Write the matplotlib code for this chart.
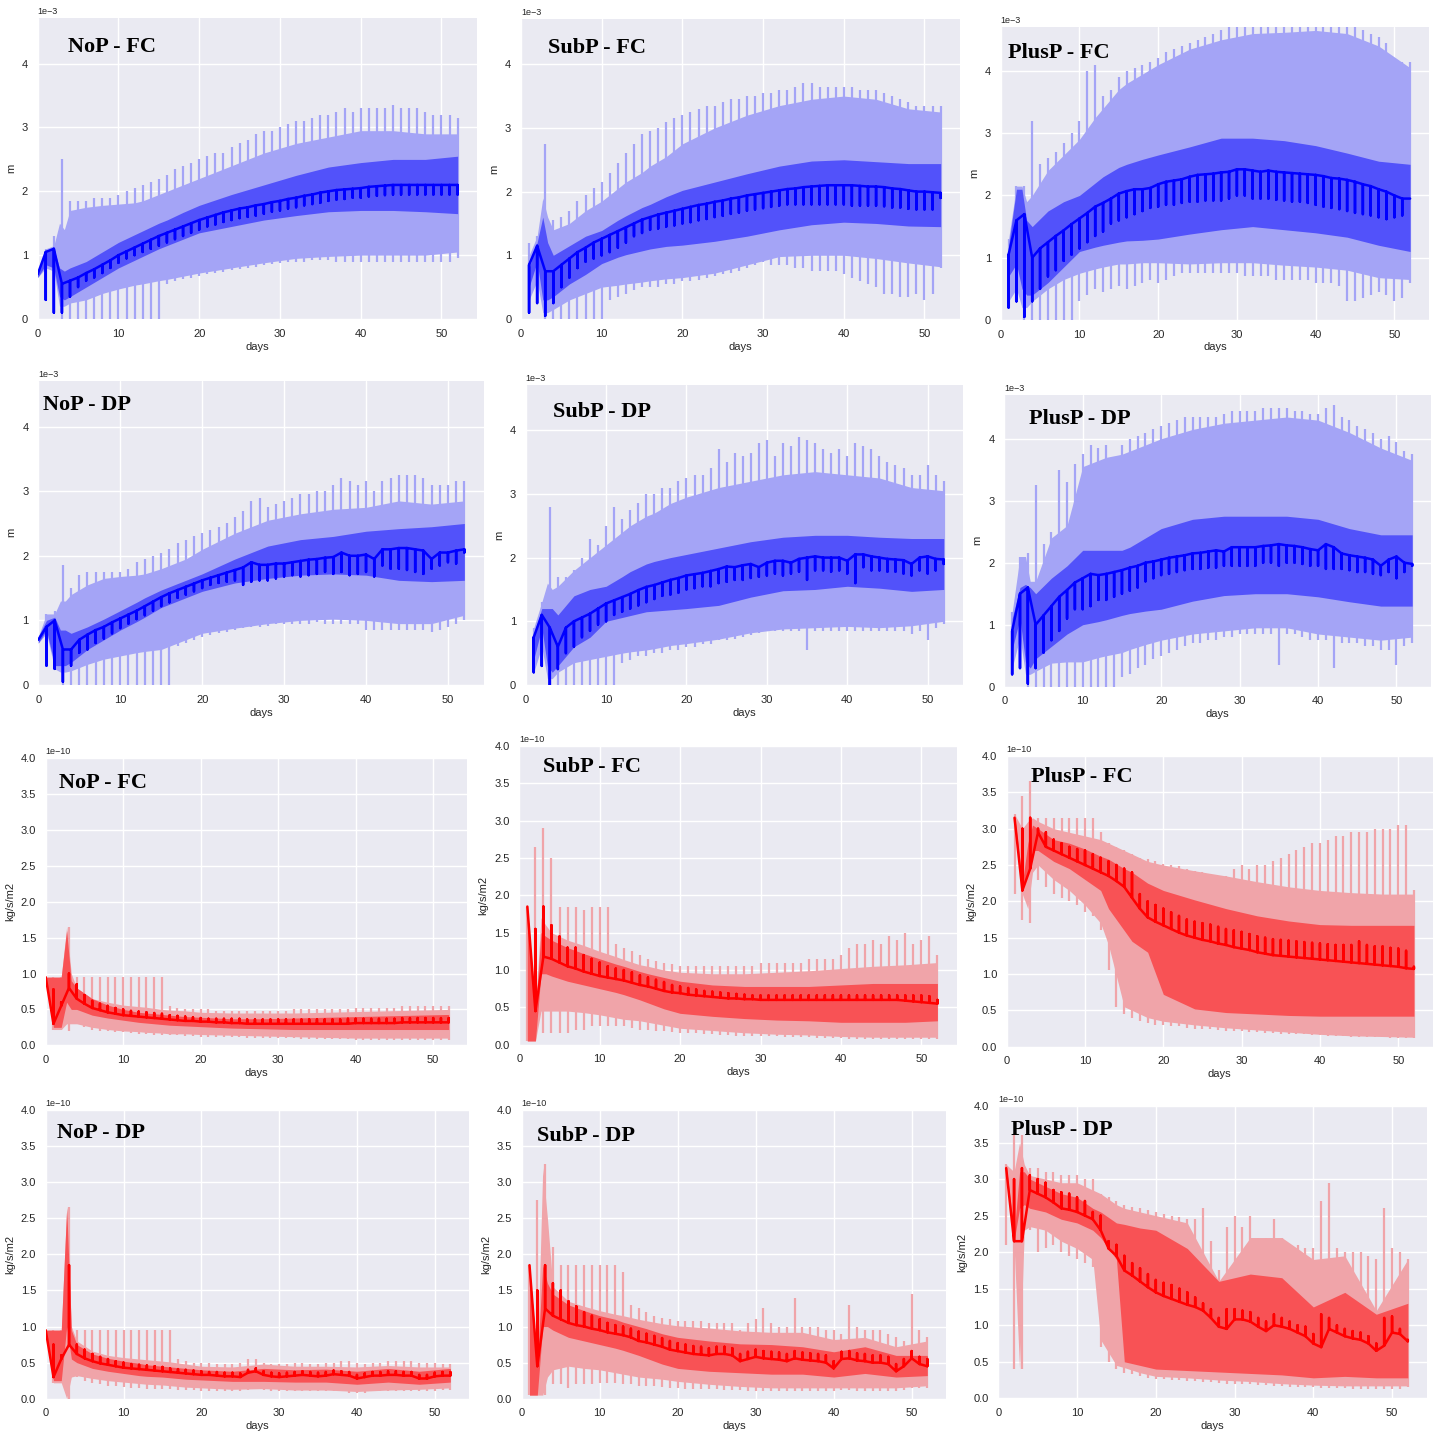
import numpy as np
import matplotlib
matplotlib.use('Agg')
import matplotlib.pyplot as plt

nan = np.nan

# sample days of the band edges
days = [0, 1, 2, 2.7, 3.3, 4, 6, 8, 10, 12, 13, 15, 16, 18, 20, 24, 28, 32, 36, 40, 44, 48, 52]
# *_med: daily median for days 0..52, *_spk: end of the daily median spike for days 1..52
# *_tip / *_dip: daily top / bottom of the outer envelope spikes for days 1..52

# ---- water height, units of 1e-3 m ----
nop_fc_med = [0.7, 1.05, 1.1, 0.55, 0.6, 0.65, 0.72, 0.78, 0.85, 0.92,
              1.0, 1.06, 1.12, 1.18, 1.24, 1.3, 1.35, 1.4, 1.45, 1.5,
              1.55, 1.59, 1.63, 1.67, 1.7, 1.73, 1.75, 1.78, 1.8, 1.83,
              1.85, 1.88, 1.9, 1.93, 1.95, 1.98, 2.0, 2.02, 2.03, 2.04,
              2.05, 2.07, 2.08, 2.09, 2.1, 2.1, 2.1, 2.1, 2.1, 2.1,
              2.1, 2.1, 2.1]
nop_fc_spk = [0.3, 0.1, 0.1, 0.35, 0.5, 0.6, 0.65, 0.72, 0.8, 0.88,
              0.95, 1.0, 1.05, 1.1, 1.15, 1.2, 1.25, 1.3, 1.35, 1.4,
              1.45, 1.48, 1.52, 1.55, 1.58, 1.6, 1.62, 1.65, 1.68, 1.7,
              1.73, 1.75, 1.78, 1.8, 1.82, 1.85, 1.87, 1.88, 1.9, 1.9,
              1.92, 1.93, 1.94, 1.95, 1.95, 1.95, 1.95, 1.95, 1.95, 1.95,
              1.95, 1.95]
nop_fc_in_lo = [0.65, 0.85, 0.8, 0.35, 0.3, 0.35, 0.5, 0.65, 0.8, 0.92, 0.98, 1.1, 1.15, 1.25, 1.35, 1.45, 1.55, 1.62, 1.68, 1.7, 1.7, 1.68, 1.65]
nop_fc_in_hi = [0.75, 1.05, 1.1, 0.8, 0.75, 0.8, 0.9, 1.05, 1.2, 1.32, 1.38, 1.5, 1.55, 1.67, 1.78, 1.95, 2.1, 2.25, 2.38, 2.45, 2.5, 2.5, 2.55]
nop_fc_out_lo = [0.65, 0.8, 0.75, 0.2, 0.2, 0.25, 0.3, 0.4, 0.47, 0.53, 0.55, 0.6, 0.62, 0.67, 0.72, 0.8, 0.88, 0.95, 0.98, 1.0, 1.0, 1.0, 1.05]
nop_fc_out_hi = [0.75, 1.1, 1.15, 1.5, 1.4, 1.7, 1.75, 1.78, 1.8, 1.82, 1.85, 1.95, 2.0, 2.1, 2.2, 2.4, 2.6, 2.75, 2.85, 2.95, 2.95, 2.9, 2.9]
nop_fc_tip = [1.1, 1.3, 2.5, 1.85, 1.85, 1.85, 1.9, 1.9, 1.9, 1.95, 2.0, 2.05, 2.1, 2.15, 2.2, 2.25, 2.35, 2.4, 2.45, 2.5,
              2.55, 2.6, 2.6, 2.7, 2.75, 2.8, 2.9, 2.95, 2.95, 3.0, 3.05, 3.1, 3.1, 3.15, 3.2, 3.2, 3.25, 3.3, 3.25, 3.3,
              3.3, 3.3, 3.3, 3.35, 3.3, 3.3, 3.3, 3.25, 3.2, 3.2, 3.2, 3.15]
nop_fc_dip = [0.8, 0.7, 0.0, 0.0, 0.0, 0.0, 0.0, 0.0, 0.0, 0.0, 0.0, 0.0, 0.0, 0.0, 0.0, 0.55, 0.6, 0.62, 0.65, 0.68,
              0.7, 0.72, 0.74, 0.76, 0.78, 0.8, 0.82, 0.84, 0.86, 0.88, 0.9, 0.9, 0.9, 0.92, 0.92, 0.92, 0.9, 0.9, 0.9, 0.9,
              0.9, 0.9, 0.9, 0.9, 0.9, 0.9, 0.9, 0.9, 0.9, 0.9, 0.9, 0.95]

subp_fc_med = [nan, 0.85, 1.15, 0.75, 0.75, 0.85, 0.95, 1.05, 1.12, 1.2,
               1.26, 1.32, 1.38, 1.44, 1.5, 1.56, 1.6, 1.64, 1.67, 1.7,
               1.73, 1.76, 1.79, 1.81, 1.84, 1.86, 1.89, 1.91, 1.94, 1.96,
               1.98, 2.0, 2.02, 2.04, 2.05, 2.07, 2.08, 2.09, 2.1, 2.1,
               2.1, 2.1, 2.09, 2.08, 2.08, 2.07, 2.05, 2.04, 2.02, 2.0,
               2.0, 1.99, 1.98]
subp_fc_spk = [0.1, 0.25, 0.05, 0.25, 0.5, 0.65, 0.8, 0.9, 0.95, 1.0,
               1.05, 1.12, 1.2, 1.3, 1.35, 1.4, 1.42, 1.45, 1.47, 1.5,
               1.52, 1.55, 1.57, 1.6, 1.62, 1.65, 1.67, 1.7, 1.72, 1.74,
               1.76, 1.78, 1.8, 1.8, 1.8, 1.8, 1.8, 1.8, 1.8, 1.8,
               1.78, 1.78, 1.78, 1.78, 1.77, 1.75, 1.75, 1.73, 1.72, 1.72,
               1.72, 1.9]
subp_fc_in_lo = [nan, 0.5, 0.9, 0.3, 0.3, 0.35, 0.55, 0.7, 0.87, 0.97, 1.01, 1.07, 1.1, 1.14, 1.16, 1.22, 1.3, 1.4, 1.48, 1.52, 1.5, 1.46, 1.45]
subp_fc_in_hi = [nan, 0.8, 1.2, 1.6, 1.2, 1.0, 1.15, 1.3, 1.39, 1.55, 1.62, 1.75, 1.8, 1.92, 2.02, 2.15, 2.28, 2.4, 2.48, 2.5, 2.47, 2.44, 2.44]
subp_fc_out_lo = [nan, 0.3, 0.6, 0.1, 0.1, 0.15, 0.3, 0.4, 0.5, 0.53, 0.55, 0.58, 0.6, 0.63, 0.65, 0.72, 0.85, 0.98, 1.0, 1.0, 0.95, 0.88, 0.82]
subp_fc_out_hi = [nan, 1.0, 1.3, 1.9, 1.6, 1.4, 1.5, 1.7, 1.85, 2.05, 2.15, 2.3, 2.4, 2.55, 2.75, 3.0, 3.2, 3.35, 3.45, 3.5, 3.45, 3.3, 3.25]
subp_fc_tip = [1.2, 1.3, 2.75, 1.55, 1.6, 1.7, 1.85, 1.95, 2.05, 2.15, 2.3, 2.45, 2.6, 2.75, 2.9, 2.95, 3.0, 3.1, 3.15, 3.2,
               3.25, 3.3, 3.35, 3.35, 3.4, 3.45, 3.45, 3.5, 3.5, 3.55, 3.55, 3.6, 3.6, 3.65, 3.7, 3.7, 3.65, 3.65, 3.65, 3.65,
               3.65, 3.6, 3.6, 3.6, 3.55, 3.5, 3.45, 3.4, 3.35, 3.35, 3.35, 3.35]
subp_fc_dip = [0.3, 0.5, 0.0, 0.0, 0.0, 0.0, 0.0, 0.0, 0.0, 0.0, 0.3, 0.35, 0.4, 0.45, 0.5, 0.5, 0.5, 0.55, 0.55, 0.6,
               0.6, 0.62, 0.65, 0.68, 0.7, 0.72, 0.75, 0.8, 0.85, 0.9, 0.85, 0.85, 0.85, 0.8, 0.8, 0.75, 0.75, 0.75, 0.75, 0.7,
               0.65, 0.6, 0.55, 0.5, 0.4, 0.4, 0.35, 0.35, 0.4, 0.3, 0.4, 0.8]

plusp_fc_med = [nan, 1.05, 1.6, 1.7, 1.0, 1.15, 1.25, 1.35, 1.44, 1.54,
                1.63, 1.72, 1.82, 1.88, 1.95, 2.03, 2.07, 2.1, 2.1, 2.12,
                2.18, 2.22, 2.24, 2.26, 2.3, 2.33, 2.34, 2.35, 2.37, 2.38,
                2.42, 2.42, 2.4, 2.38, 2.4, 2.38, 2.37, 2.36, 2.35, 2.34,
                2.33, 2.31, 2.28, 2.27, 2.25, 2.22, 2.18, 2.15, 2.1, 2.06,
                2.0, 1.95, 1.95]
plusp_fc_spk = [0.2, 0.3, 0.05, 0.3, 0.5, 0.7, 0.8, 0.95, 1.05, 1.15,
                1.25, 1.35, 1.42, 1.55, 1.6, 1.65, 1.7, 1.75, 1.8, 1.82,
                1.85, 1.85, 1.88, 1.9, 1.9, 1.92, 1.92, 1.92, 1.95, 2.0,
                2.0, 1.95, 1.95, 1.95, 1.93, 1.92, 1.9, 1.9, 1.88, 1.85,
                1.82, 1.8, 1.78, 1.75, 1.72, 1.7, 1.68, 1.65, 1.62, 1.65,
                1.68, 1.95]
plusp_fc_in_lo = [nan, 0.7, 0.9, 0.5, 0.4, 0.4, 0.6, 0.85, 1.1, 1.17, 1.2, 1.25, 1.27, 1.28, 1.3, 1.38, 1.45, 1.5, 1.45, 1.4, 1.33, 1.2, 1.1]
plusp_fc_in_hi = [nan, 1.2, 2.1, 2.1, 1.6, 1.5, 1.75, 1.9, 2.0, 2.2, 2.3, 2.45, 2.5, 2.58, 2.65, 2.78, 2.92, 2.92, 2.88, 2.8, 2.68, 2.55, 2.5]
plusp_fc_out_lo = [nan, 0.3, 0.5, 0.2, 0.2, 0.3, 0.5, 0.65, 0.75, 0.82, 0.85, 0.9, 0.9, 0.92, 0.92, 0.9, 0.92, 0.92, 0.88, 0.85, 0.8, 0.68, 0.65]
plusp_fc_out_hi = [nan, 1.3, 2.15, 2.15, 1.9, 2.0, 2.4, 2.65, 2.9, 3.25, 3.4, 3.7, 3.8, 3.95, 4.1, 4.35, 4.5, 4.6, 4.62, 4.65, 4.6, 4.4, 4.05]
plusp_fc_tip = [1.3, 2.15, 2.15, 3.2, 2.5, 2.6, 2.7, 2.85, 3.0, 3.2, 4.0, 4.1, 3.6, 3.7, 3.9, 4.0, 4.05, 4.1, 4.15, 4.2,
                4.3, 4.35, 4.4, 4.45, 4.5, 4.55, 4.6, 4.65, 4.7, 4.7, 4.7, 4.7, 4.7, 4.7, 4.7, 4.7, 4.7, 4.7, 4.7, 4.7,
                4.7, 4.7, 4.7, 4.7, 4.7, 4.65, 4.6, 4.55, 4.45, 4.2, 4.15, 4.15]
plusp_fc_dip = [0.2, 0.3, 0.0, 0.0, 0.0, 0.0, 0.0, 0.0, 0.0, 0.3, 0.4, 0.5, 0.45, 0.5, 0.55, 0.5, 0.55, 0.6, 0.65, 0.6,
                0.65, 0.7, 0.75, 0.75, 0.75, 0.75, 0.75, 0.75, 0.75, 0.75, 0.7, 0.7, 0.7, 0.7, 0.65, 0.65, 0.65, 0.65, 0.65, 0.6,
                0.6, 0.6, 0.55, 0.3, 0.3, 0.35, 0.4, 0.45, 0.4, 0.3, 0.35, 0.6]

nop_dp_med = [0.7, 0.9, 1.0, 0.55, 0.55, 0.7, 0.78, 0.85, 0.9, 0.97,
              1.03, 1.09, 1.15, 1.22, 1.29, 1.36, 1.42, 1.47, 1.52, 1.57,
              1.62, 1.66, 1.7, 1.74, 1.78, 1.82, 1.9, 1.86, 1.86, 1.88,
              1.88, 1.9, 1.92, 1.94, 1.95, 1.97, 1.98, 2.05, 2.0, 2.0,
              2.02, 1.95, 2.1, 2.1, 2.12, 2.12, 2.1, 2.08, 1.95, 2.05,
              2.05, 2.08, 2.1]
nop_dp_spk = [0.3, 0.25, 0.05, 0.3, 0.5, 0.55, 0.65, 0.72, 0.8, 0.88,
              0.95, 1.02, 1.08, 1.15, 1.22, 1.28, 1.35, 1.4, 1.45, 1.5,
              1.55, 1.58, 1.6, 1.62, 1.55, 1.6, 1.62, 1.62, 1.65, 1.68,
              1.7, 1.68, 1.7, 1.72, 1.75, 1.72, 1.75, 1.7, 1.72, 1.75,
              1.68, 1.85, 1.8, 1.8, 1.78, 1.75, 1.72, 1.8, 1.85, 1.9,
              1.88, 2.05]
nop_dp_in_lo = [0.65, 0.85, 0.3, 0.3, 0.3, 0.35, 0.55, 0.7, 0.85, 0.98, 1.05, 1.2, 1.25, 1.35, 1.45, 1.58, 1.65, 1.7, 1.72, 1.7, 1.62, 1.6, 1.62]
nop_dp_in_hi = [0.75, 1.0, 1.05, 0.85, 0.85, 0.8, 0.9, 1.02, 1.15, 1.28, 1.35, 1.47, 1.52, 1.62, 1.72, 1.95, 2.15, 2.25, 2.3, 2.38, 2.42, 2.45, 2.5]
nop_dp_out_lo = [0.65, 0.8, 0.25, 0.2, 0.2, 0.22, 0.32, 0.4, 0.45, 0.5, 0.52, 0.55, 0.6, 0.7, 0.8, 0.88, 0.95, 1.0, 1.02, 1.0, 0.95, 0.95, 1.08]
nop_dp_out_hi = [0.75, 1.1, 1.1, 1.3, 1.3, 1.4, 1.55, 1.65, 1.68, 1.7, 1.72, 1.8, 1.85, 1.95, 2.1, 2.35, 2.55, 2.65, 2.72, 2.75, 2.85, 2.8, 2.85]
nop_dp_tip = [1.1, 1.15, 1.85, 1.5, 1.7, 1.75, 1.75, 1.75, 1.75, 1.75, 1.8, 1.9, 1.95, 2.0, 2.05, 2.1, 2.2, 2.25, 2.3, 2.35,
              2.4, 2.45, 2.5, 2.6, 2.7, 2.85, 2.9, 2.75, 2.8, 2.85, 2.9, 2.95, 2.95, 3.0, 3.0, 3.1, 3.2, 3.15, 3.1, 3.15,
              3.0, 3.15, 3.2, 3.25, 3.25, 3.25, 3.2, 3.1, 3.1, 3.1, 3.15, 3.15]
nop_dp_dip = [0.8, 0.25, 0.0, 0.0, 0.0, 0.0, 0.0, 0.0, 0.0, 0.0, 0.0, 0.0, 0.0, 0.0, 0.0, 0.0, 0.6, 0.65, 0.7, 0.75,
              0.78, 0.8, 0.82, 0.85, 0.88, 0.9, 0.9, 0.92, 0.95, 0.95, 0.95, 0.95, 0.95, 0.98, 0.95, 0.95, 0.95, 0.95, 0.95, 0.85,
              0.85, 0.85, 0.85, 0.85, 0.85, 0.85, 0.85, 0.82, 0.85, 0.9, 0.95, 1.0]

subp_dp_med = [nan, 0.75, 1.1, 0.9, 0.6, 0.9, 1.0, 1.06, 1.12, 1.2,
               1.28, 1.33, 1.38, 1.43, 1.49, 1.54, 1.57, 1.61, 1.65, 1.68,
               1.72, 1.74, 1.76, 1.79, 1.82, 1.86, 1.85, 1.88, 1.9, 1.85,
               1.92, 1.95, 1.95, 1.92, 1.98, 2.0, 2.02, 2.0, 2.0, 2.0,
               1.95, 2.05, 2.05, 2.02, 2.0, 1.98, 1.97, 1.96, 1.9, 2.0,
               2.02, 1.98, 1.97]
subp_dp_spk = [0.2, 0.3, 0.0, 0.25, 0.5, 0.6, 0.75, 0.85, 0.95, 1.0,
               1.1, 1.15, 1.2, 1.25, 1.3, 1.35, 1.4, 1.42, 1.45, 1.5,
               1.52, 1.55, 1.55, 1.6, 1.62, 1.65, 1.65, 1.68, 1.7, 1.72,
               1.75, 1.72, 1.75, 1.78, 1.65, 1.8, 1.8, 1.78, 1.8, 1.75,
               1.6, 1.85, 1.8, 1.8, 1.78, 1.78, 1.75, 1.72, 1.8, 1.75,
               1.8, 1.9]
subp_dp_in_lo = [nan, 0.4, 0.9, 0.3, 0.2, 0.3, 0.6, 0.75, 1.0, 1.06, 1.09, 1.15, 1.16, 1.18, 1.2, 1.25, 1.38, 1.48, 1.5, 1.55, 1.52, 1.47, 1.5]
subp_dp_in_hi = [nan, 0.8, 1.2, 1.2, 1.2, 1.1, 1.4, 1.5, 1.55, 1.7, 1.78, 1.9, 1.94, 2.0, 2.05, 2.15, 2.25, 2.32, 2.35, 2.35, 2.32, 2.3, 2.3]
subp_dp_out_lo = [nan, 0.2, 0.6, 0.1, 0.1, 0.2, 0.35, 0.4, 0.45, 0.5, 0.52, 0.55, 0.57, 0.62, 0.65, 0.72, 0.82, 0.88, 0.9, 0.92, 0.9, 0.93, 1.0]
subp_dp_out_hi = [nan, 0.9, 1.3, 1.6, 1.5, 1.55, 1.8, 2.0, 2.2, 2.4, 2.5, 2.65, 2.7, 2.85, 2.95, 3.1, 3.2, 3.3, 3.35, 3.3, 3.25, 3.1, 3.05]
subp_dp_tip = [0.9, 1.3, 2.8, 1.7, 1.7, 1.8, 2.0, 2.3, 2.2, 2.5, 2.8, 2.6, 2.75, 2.85, 3.0, 3.0, 3.1, 3.1, 3.2, 3.25,
               3.3, 3.3, 3.4, 3.7, 3.5, 3.65, 3.6, 3.65, 3.8, 3.85, 3.6, 3.8, 3.75, 3.9, 3.85, 3.8, 3.7, 3.65, 3.7, 3.6,
               3.8, 3.75, 3.7, 3.6, 3.5, 3.45, 3.4, 3.3, 3.3, 3.45, 3.3, 3.2]
subp_dp_dip = [0.2, 0.3, 0.0, 0.0, 0.0, 0.0, 0.0, 0.0, 0.0, 0.0, 0.0, 0.35, 0.4, 0.45, 0.45, 0.5, 0.5, 0.55, 0.55, 0.6,
               0.6, 0.65, 0.65, 0.7, 0.7, 0.72, 0.75, 0.78, 0.82, 0.85, 0.85, 0.85, 0.85, 0.85, 0.55, 0.85, 0.85, 0.85, 0.85, 0.85,
               0.85, 0.85, 0.85, 0.85, 0.85, 0.85, 0.85, 0.8, 0.85, 0.7, 0.9, 0.95]

plusp_dp_med = [nan, 0.9, 1.5, 1.6, 1.0, 1.15, 1.3, 1.45, 1.56, 1.68,
                1.75, 1.82, 1.8, 1.82, 1.85, 1.88, 1.92, 1.95, 2.0, 2.02,
                2.05, 2.08, 2.1, 2.12, 2.15, 2.16, 2.18, 2.2, 2.18, 2.25,
                2.25, 2.25, 2.25, 2.27, 2.28, 2.3, 2.28, 2.27, 2.25, 2.22,
                2.2, 2.3, 2.25, 2.15, 2.12, 2.1, 2.08, 2.05, 1.95, 2.05,
                2.1, 2.0, 1.98]
plusp_dp_spk = [0.2, 0.3, 0.05, 0.3, 0.55, 0.75, 0.9, 1.1, 1.25, 1.25,
                1.3, 1.4, 1.4, 1.45, 1.5, 1.55, 1.6, 1.7, 1.75, 1.8,
                1.82, 1.85, 1.88, 1.9, 1.9, 1.92, 1.92, 1.95, 1.95, 1.95,
                1.95, 1.95, 2.0, 2.0, 1.95, 2.0, 2.0, 1.98, 1.95, 1.95,
                1.9, 1.9, 1.9, 1.88, 1.85, 1.85, 1.82, 1.8, 1.85, 1.75,
                1.85, 1.95]
plusp_dp_in_lo = [nan, 0.6, 1.1, 0.4, 0.3, 0.45, 0.65, 0.85, 1.0, 1.05, 1.08, 1.15, 1.18, 1.22, 1.25, 1.38, 1.47, 1.5, 1.5, 1.45, 1.37, 1.3, 1.3]
plusp_dp_in_hi = [nan, 1.1, 1.6, 1.65, 1.6, 1.5, 1.75, 1.95, 2.2, 2.2, 2.2, 2.2, 2.25, 2.4, 2.55, 2.7, 2.75, 2.75, 2.75, 2.7, 2.55, 2.45, 2.45]
plusp_dp_out_lo = [nan, 0.3, 0.8, 0.2, 0.2, 0.25, 0.38, 0.4, 0.4, 0.47, 0.5, 0.55, 0.6, 0.68, 0.75, 0.85, 0.9, 0.95, 0.95, 0.85, 0.8, 0.75, 0.8]
plusp_dp_out_hi = [nan, 1.2, 2.1, 2.1, 1.7, 1.7, 2.4, 2.6, 3.55, 3.65, 3.7, 3.75, 3.8, 3.9, 4.0, 4.15, 4.25, 4.3, 4.35, 4.3, 4.1, 3.85, 3.65]
plusp_dp_tip = [1.2, 2.1, 2.15, 3.25, 2.3, 2.5, 3.5, 3.3, 3.6, 3.75, 3.9, 3.85, 3.9, 3.6, 3.9, 4.0, 4.05, 4.1, 4.15, 4.2,
                4.25, 4.3, 4.35, 4.35, 4.35, 4.35, 4.35, 4.4, 4.45, 4.45, 4.45, 4.45, 4.5, 4.5, 4.5, 4.5, 4.45, 4.45, 4.4, 4.4,
                4.5, 4.55, 4.35, 4.3, 4.2, 4.15, 4.1, 4.0, 4.05, 3.95, 3.8, 3.75]
plusp_dp_dip = [0.2, 0.4, 0.0, 0.0, 0.0, 0.0, 0.0, 0.0, 0.0, 0.0, 0.0, 0.0, 0.0, 0.0, 0.15, 0.2, 0.3, 0.35, 0.45, 0.5,
                0.55, 0.6, 0.65, 0.7, 0.7, 0.75, 0.75, 0.8, 0.8, 0.85, 0.85, 0.85, 0.85, 0.85, 0.35, 0.85, 0.85, 0.8, 0.75, 0.75,
                0.75, 0.3, 0.7, 0.7, 0.7, 0.65, 0.65, 0.6, 0.6, 0.35, 0.65, 0.7]

# ---- flux, units of 1e-10 kg/s/m2 ----
nop_fc_q_med = [0.95, 0.3, 0.55, 0.8, 0.65, 0.58, 0.52, 0.49, 0.46, 0.44,
                0.42, 0.41, 0.4, 0.39, 0.38, 0.37, 0.36, 0.35, 0.34, 0.34,
                0.33, 0.33, 0.32, 0.32, 0.31, 0.31, 0.3, 0.3, 0.3, 0.3,
                0.3, 0.3, 0.3, 0.3, 0.3, 0.3, 0.3, 0.3, 0.3, 0.3,
                0.31, 0.31, 0.31, 0.31, 0.31, 0.31, 0.32, 0.32, 0.32, 0.32,
                0.32, 0.32, 0.32]
nop_fc_q_spk = [0.78, 0.6, 1.0, 0.85, 0.7, 0.62, 0.58, 0.55, 0.52, 0.5,
                0.48, 0.47, 0.46, 0.45, 0.44, 0.42, 0.41, 0.4, 0.39, 0.38,
                0.37, 0.37, 0.37, 0.37, 0.37, 0.36, 0.36, 0.36, 0.36, 0.36,
                0.36, 0.36, 0.36, 0.36, 0.36, 0.36, 0.36, 0.36, 0.37, 0.37,
                0.37, 0.37, 0.37, 0.37, 0.37, 0.38, 0.38, 0.38, 0.38, 0.38,
                0.38, 0.38]
nop_fc_q_in_lo = [0.95, 0.25, 0.25, 0.6, 0.5, 0.5, 0.42, 0.38, 0.35, 0.32, 0.31, 0.29, 0.28, 0.27, 0.26, 0.24, 0.23, 0.22, 0.22, 0.22, 0.22, 0.22, 0.22]
nop_fc_q_in_hi = [0.95, 0.95, 0.95, 1.6, 0.9, 0.8, 0.65, 0.56, 0.5, 0.46, 0.45, 0.43, 0.42, 0.4, 0.39, 0.37, 0.37, 0.38, 0.39, 0.4, 0.41, 0.42, 0.43]
nop_fc_q_out_lo = [0.95, 0.22, 0.22, 0.3, 0.3, 0.3, 0.25, 0.22, 0.2, 0.19, 0.18, 0.17, 0.16, 0.16, 0.15, 0.14, 0.13, 0.12, 0.11, 0.1, 0.1, 0.1, 0.1]
nop_fc_q_out_hi = [0.95, 0.95, 0.95, 1.65, 1.0, 0.8, 0.65, 0.6, 0.56, 0.54, 0.53, 0.5, 0.49, 0.48, 0.46, 0.45, 0.45, 0.45, 0.46, 0.47, 0.48, 0.49, 0.5]
nop_fc_q_tip = [0.95, 0.95, 1.65, 0.95, 0.95, 0.95, 0.95, 0.95, 0.95, 0.95, 0.95, 0.95, 0.95, 0.95, 0.95, 0.55, 0.52, 0.5, 0.5, 0.5,
                0.5, 0.48, 0.48, 0.48, 0.48, 0.48, 0.48, 0.48, 0.48, 0.48, 0.48, 0.5, 0.5, 0.5, 0.5, 0.5, 0.5, 0.5, 0.5, 0.52,
                0.52, 0.52, 0.52, 0.52, 0.52, 0.55, 0.55, 0.55, 0.55, 0.55, 0.55, 0.55]
nop_fc_q_dip = [0.22, 0.22, 0.2, 0.3, 0.25, 0.22, 0.2, 0.2, 0.18, 0.18, 0.17, 0.16, 0.16, 0.15, 0.15, 0.14, 0.14, 0.13, 0.13, 0.12,
                0.12, 0.12, 0.11, 0.11, 0.11, 0.1, 0.1, 0.1, 0.1, 0.1, 0.1, 0.1, 0.09, 0.09, 0.09, 0.09, 0.09, 0.09, 0.09, 0.08,
                0.08, 0.08, 0.08, 0.08, 0.08, 0.08, 0.08, 0.08, 0.08, 0.08, 0.08, 0.08]

subp_fc_q_med = [nan, 1.85, 0.45, 1.18, 1.15, 1.1, 1.05, 1.02, 0.98, 0.95,
                 0.92, 0.9, 0.88, 0.86, 0.83, 0.8, 0.78, 0.75, 0.72, 0.7,
                 0.69, 0.67, 0.66, 0.65, 0.64, 0.63, 0.62, 0.62, 0.61, 0.61,
                 0.6, 0.6, 0.6, 0.6, 0.6, 0.6, 0.6, 0.6, 0.6, 0.6,
                 0.6, 0.6, 0.6, 0.6, 0.6, 0.6, 0.6, 0.6, 0.59, 0.58,
                 0.57, 0.56, 0.55]
subp_fc_q_spk = [1.85, 1.55, 1.85, 1.6, 1.45, 1.3, 1.3, 1.2, 1.15, 1.1,
                 1.05, 1.02, 1.0, 0.97, 0.93, 0.9, 0.87, 0.84, 0.8, 0.78,
                 0.76, 0.74, 0.72, 0.71, 0.7, 0.69, 0.68, 0.67, 0.66, 0.66,
                 0.66, 0.66, 0.66, 0.66, 0.66, 0.66, 0.66, 0.66, 0.66, 0.66,
                 0.66, 0.66, 0.66, 0.66, 0.66, 0.66, 0.66, 0.66, 0.66, 0.66,
                 0.65, 0.6]
subp_fc_q_in_lo = [nan, 0.05, 0.05, 0.95, 0.95, 0.92, 0.85, 0.8, 0.75, 0.7, 0.67, 0.6, 0.56, 0.48, 0.42, 0.38, 0.35, 0.33, 0.32, 0.3, 0.3, 0.3, 0.32]
subp_fc_q_in_hi = [nan, 1.85, 0.45, 1.5, 1.45, 1.4, 1.3, 1.22, 1.15, 1.08, 1.05, 0.98, 0.95, 0.9, 0.85, 0.8, 0.78, 0.78, 0.78, 0.8, 0.82, 0.82, 0.82]
subp_fc_q_out_lo = [nan, 0.05, 0.05, 0.45, 0.45, 0.45, 0.45, 0.43, 0.4, 0.36, 0.34, 0.32, 0.3, 0.26, 0.22, 0.19, 0.16, 0.14, 0.13, 0.11, 0.1, 0.1, 0.1]
subp_fc_q_out_hi = [nan, 1.85, 0.5, 1.7, 1.6, 1.5, 1.4, 1.33, 1.25, 1.18, 1.14, 1.07, 1.05, 1.0, 0.97, 0.95, 0.95, 0.97, 0.99, 1.02, 1.05, 1.07, 1.1]
subp_fc_q_tip = [1.85, 2.65, 2.9, 2.5, 1.85, 1.85, 1.85, 1.8, 1.85, 1.85, 1.85, 1.35, 1.3, 1.25, 1.2, 1.15, 1.12, 1.1, 1.08, 1.05,
                 1.05, 1.05, 1.05, 1.05, 1.05, 1.05, 1.05, 1.05, 1.05, 1.1, 1.1, 1.1, 1.1, 1.1, 1.1, 1.15, 1.15, 1.15, 1.15, 1.2,
                 1.3, 1.35, 1.35, 1.4, 1.35, 1.45, 1.4, 1.5, 1.35, 1.4, 1.45, 1.2]
subp_fc_q_dip = [0.05, 0.05, 0.15, 0.15, 0.15, 0.15, 0.2, 0.2, 0.25, 0.25, 0.25, 0.25, 0.25, 0.22, 0.2, 0.2, 0.18, 0.18, 0.17, 0.16,
                 0.15, 0.15, 0.14, 0.14, 0.13, 0.13, 0.12, 0.12, 0.12, 0.11, 0.11, 0.11, 0.1, 0.1, 0.1, 0.1, 0.09, 0.09, 0.09, 0.09,
                 0.08, 0.08, 0.08, 0.08, 0.08, 0.08, 0.08, 0.08, 0.08, 0.08, 0.08, 0.08]

plusp_fc_q_med = [nan, 3.15, 2.15, 2.45, 2.95, 2.75, 2.7, 2.65, 2.6, 2.55,
                  2.5, 2.45, 2.4, 2.35, 2.28, 2.2, 2.05, 1.9, 1.78, 1.72,
                  1.67, 1.62, 1.57, 1.53, 1.5, 1.47, 1.45, 1.42, 1.4, 1.37,
                  1.35, 1.33, 1.3, 1.28, 1.26, 1.25, 1.24, 1.23, 1.22, 1.21,
                  1.2, 1.19, 1.18, 1.17, 1.16, 1.15, 1.14, 1.13, 1.12, 1.11,
                  1.1, 1.08, 1.07]
plusp_fc_q_spk = [3.15, 3.0, 3.15, 3.0, 2.95, 2.85, 2.8, 2.75, 2.72, 2.7,
                  2.65, 2.6, 2.55, 2.5, 2.45, 2.4, 2.1, 2.0, 1.95, 1.9,
                  1.85, 1.8, 1.75, 1.72, 1.7, 1.68, 1.65, 1.62, 1.6, 1.58,
                  1.55, 1.52, 1.5, 1.48, 1.47, 1.46, 1.45, 1.44, 1.43, 1.42,
                  1.41, 1.4, 1.4, 1.4, 1.45, 1.4, 1.38, 1.38, 1.36, 1.35,
                  1.32, 1.1]
plusp_fc_q_in_lo = [nan, 3.1, 2.15, 2.4, 2.7, 2.7, 2.55, 2.45, 2.3, 2.15, 1.9, 1.6, 1.45, 1.3, 0.72, 0.52, 0.47, 0.45, 0.43, 0.42, 0.42, 0.42, 0.42]
plusp_fc_q_in_hi = [nan, 3.2, 2.25, 2.8, 3.05, 3.0, 2.85, 2.8, 2.72, 2.62, 2.58, 2.45, 2.4, 2.25, 2.15, 2.02, 1.9, 1.8, 1.73, 1.68, 1.67, 1.67, 1.67]
plusp_fc_q_out_lo = [nan, 3.1, 2.1, 1.9, 2.4, 2.5, 2.3, 2.15, 1.95, 1.7, 1.4, 0.55, 0.5, 0.4, 0.35, 0.3, 0.26, 0.23, 0.2, 0.17, 0.15, 0.14, 0.13]
plusp_fc_q_out_hi = [nan, 3.2, 3.0, 3.1, 3.15, 3.1, 3.0, 2.95, 2.9, 2.85, 2.8, 2.7, 2.65, 2.55, 2.5, 2.42, 2.35, 2.27, 2.2, 2.15, 2.12, 2.1, 2.1]
plusp_fc_q_tip = [3.2, 3.45, 3.65, 3.15, 3.15, 3.15, 3.15, 3.15, 3.15, 3.15, 3.15, 2.95, 2.8, 2.75, 2.7, 2.65, 2.6, 2.58, 2.55, 2.52,
                  2.5, 2.48, 2.45, 2.42, 2.4, 2.38, 2.35, 2.35, 2.45, 2.5, 2.45, 2.5, 2.5, 2.55, 2.6, 2.65, 2.7, 2.75, 2.8, 2.8,
                  2.85, 2.9, 2.9, 2.95, 2.95, 2.95, 3.0, 3.0, 3.0, 3.05, 3.05, 2.15]
plusp_fc_q_dip = [2.1, 1.75, 1.7, 2.3, 2.2, 2.1, 2.05, 2.0, 1.95, 1.85, 1.8, 1.6, 1.05, 0.55, 0.45, 0.4, 0.35, 0.33, 0.3, 0.3,
                  0.28, 0.28, 0.26, 0.25, 0.25, 0.24, 0.23, 0.22, 0.22, 0.21, 0.2, 0.2, 0.19, 0.19, 0.18, 0.18, 0.17, 0.17, 0.16, 0.16,
                  0.15, 0.15, 0.15, 0.14, 0.14, 0.14, 0.13, 0.13, 0.12, 0.12, 0.12, 0.12]

nop_dp_q_med = [0.95, 0.3, 0.55, 0.75, 0.62, 0.56, 0.52, 0.49, 0.47, 0.45,
                0.43, 0.42, 0.41, 0.4, 0.39, 0.38, 0.37, 0.36, 0.35, 0.34,
                0.33, 0.33, 0.32, 0.31, 0.31, 0.3, 0.36, 0.38, 0.33, 0.31,
                0.3, 0.31, 0.32, 0.33, 0.32, 0.31, 0.32, 0.34, 0.33, 0.32,
                0.28, 0.3, 0.32, 0.32, 0.33, 0.33, 0.32, 0.32, 0.28, 0.28,
                0.31, 0.32, 0.32]
nop_dp_q_spk = [0.75, 0.6, 1.85, 0.75, 0.68, 0.62, 0.58, 0.55, 0.52, 0.5,
                0.48, 0.47, 0.46, 0.45, 0.44, 0.42, 0.41, 0.4, 0.39, 0.38,
                0.37, 0.37, 0.36, 0.36, 0.35, 0.4, 0.42, 0.38, 0.36, 0.35,
                0.36, 0.37, 0.38, 0.37, 0.36, 0.37, 0.39, 0.38, 0.37, 0.33,
                0.35, 0.37, 0.37, 0.38, 0.38, 0.37, 0.37, 0.33, 0.33, 0.36,
                0.37, 0.37]
nop_dp_q_in_lo = [0.95, 0.25, 0.25, 1.0, 0.55, 0.5, 0.42, 0.38, 0.35, 0.32, 0.31, 0.3, 0.29, 0.27, 0.26, 0.24, 0.24, 0.23, 0.23, 0.2, 0.23, 0.2, 0.23]
nop_dp_q_in_hi = [0.95, 0.95, 0.95, 2.65, 0.95, 0.75, 0.62, 0.56, 0.52, 0.49, 0.47, 0.45, 0.44, 0.42, 0.4, 0.38, 0.42, 0.4, 0.41, 0.38, 0.42, 0.38, 0.42]
nop_dp_q_out_lo = [0.95, 0.22, 0.22, 0.0, 0.3, 0.32, 0.28, 0.25, 0.23, 0.21, 0.2, 0.19, 0.18, 0.16, 0.15, 0.13, 0.14, 0.12, 0.12, 0.1, 0.12, 0.13, 0.15]
nop_dp_q_out_hi = [0.95, 0.95, 0.95, 2.65, 1.0, 0.8, 0.66, 0.6, 0.57, 0.55, 0.54, 0.52, 0.51, 0.48, 0.45, 0.44, 0.48, 0.45, 0.45, 0.44, 0.46, 0.44, 0.44]
nop_dp_q_tip = [0.95, 0.95, 2.65, 0.95, 0.95, 0.95, 0.95, 0.95, 0.95, 0.95, 0.95, 0.95, 0.95, 0.95, 0.95, 0.95, 0.55, 0.52, 0.5, 0.5,
                0.5, 0.48, 0.48, 0.48, 0.5, 0.55, 0.55, 0.5, 0.48, 0.48, 0.48, 0.5, 0.5, 0.48, 0.48, 0.5, 0.5, 0.52, 0.52, 0.5,
                0.48, 0.5, 0.5, 0.52, 0.52, 0.52, 0.52, 0.5, 0.5, 0.5, 0.48, 0.48]
nop_dp_q_dip = [0.22, 0.22, 0.0, 0.3, 0.25, 0.22, 0.2, 0.18, 0.17, 0.16, 0.15, 0.15, 0.14, 0.14, 0.13, 0.13, 0.12, 0.12, 0.12, 0.11,
                0.11, 0.11, 0.1, 0.1, 0.1, 0.12, 0.14, 0.12, 0.1, 0.1, 0.1, 0.1, 0.1, 0.1, 0.1, 0.1, 0.1, 0.1, 0.08, 0.08,
                0.08, 0.1, 0.1, 0.1, 0.1, 0.1, 0.1, 0.1, 0.1, 0.1, 0.12, 0.12]

subp_dp_q_med = [nan, 1.85, 0.45, 1.25, 1.15, 1.1, 1.05, 1.02, 1.0, 0.97,
                 0.95, 0.92, 0.9, 0.88, 0.85, 0.8, 0.78, 0.75, 0.72, 0.68,
                 0.66, 0.64, 0.62, 0.61, 0.6, 0.62, 0.62, 0.6, 0.52, 0.55,
                 0.58, 0.56, 0.55, 0.54, 0.52, 0.56, 0.54, 0.53, 0.52, 0.5,
                 0.42, 0.55, 0.56, 0.53, 0.52, 0.5, 0.5, 0.48, 0.38, 0.45,
                 0.56, 0.48, 0.45]
subp_dp_q_spk = [1.85, 1.5, 1.85, 1.6, 1.5, 1.35, 1.28, 1.2, 1.15, 1.1,
                 1.05, 1.02, 1.0, 0.97, 0.93, 0.9, 0.87, 0.84, 0.8, 0.77,
                 0.75, 0.73, 0.72, 0.7, 0.72, 0.72, 0.7, 0.62, 0.65, 0.68,
                 0.66, 0.65, 0.64, 0.62, 0.66, 0.64, 0.63, 0.62, 0.6, 0.52,
                 0.65, 0.66, 0.63, 0.62, 0.6, 0.6, 0.58, 0.48, 0.55, 0.66,
                 0.58, 0.55]
subp_dp_q_in_lo = [nan, 0.05, 0.05, 1.0, 1.0, 0.95, 0.85, 0.8, 0.75, 0.7, 0.67, 0.6, 0.56, 0.48, 0.42, 0.38, 0.36, 0.34, 0.34, 0.3, 0.35, 0.3, 0.32]
subp_dp_q_in_hi = [nan, 1.85, 0.5, 1.85, 1.6, 1.45, 1.3, 1.22, 1.15, 1.1, 1.06, 1.0, 0.97, 0.9, 0.85, 0.8, 0.76, 0.75, 0.72, 0.65, 0.72, 0.6, 0.6]
subp_dp_q_out_lo = [nan, 0.05, 0.05, 0.05, 0.3, 0.4, 0.45, 0.42, 0.4, 0.36, 0.34, 0.3, 0.29, 0.27, 0.24, 0.2, 0.17, 0.15, 0.15, 0.15, 0.15, 0.15, 0.18]
subp_dp_q_out_hi = [nan, 1.85, 0.5, 3.2, 2.5, 1.55, 1.35, 1.28, 1.22, 1.17, 1.15, 1.1, 1.08, 1.04, 1.01, 0.98, 0.94, 0.92, 0.92, 0.82, 0.85, 0.72, 0.8]
subp_dp_q_tip = [1.85, 2.75, 3.25, 2.1, 1.85, 1.85, 1.85, 1.85, 1.85, 1.85, 1.85, 1.85, 1.75, 1.3, 1.25, 1.2, 1.15, 1.12, 1.1, 1.08,
                 1.08, 1.08, 1.08, 1.05, 1.05, 1.05, 1.05, 0.95, 1.05, 1.1, 1.25, 1.05, 1.0, 1.0, 1.4, 1.0, 1.0, 1.0, 0.95, 0.95,
                 0.9, 1.3, 1.0, 0.95, 0.95, 0.95, 0.9, 0.85, 0.8, 1.45, 0.95, 0.85]
subp_dp_q_dip = [0.05, 0.05, 0.05, 0.2, 0.2, 0.15, 0.2, 0.2, 0.2, 0.22, 0.22, 0.22, 0.2, 0.2, 0.18, 0.18, 0.17, 0.16, 0.15, 0.15,
                 0.14, 0.14, 0.13, 0.13, 0.13, 0.12, 0.12, 0.12, 0.11, 0.11, 0.11, 0.1, 0.1, 0.1, 0.1, 0.1, 0.1, 0.1, 0.1, 0.1,
                 0.12, 0.12, 0.1, 0.1, 0.1, 0.1, 0.1, 0.1, 0.12, 0.15, 0.15, 0.15]

plusp_dp_q_med = [nan, 3.15, 2.15, 2.15, 2.85, 2.8, 2.75, 2.68, 2.6, 2.58,
                  2.55, 2.5, 2.45, 2.3, 2.05, 1.95, 1.75, 1.68, 1.6, 1.52,
                  1.45, 1.4, 1.36, 1.32, 1.28, 1.25, 1.2, 1.1, 0.98, 0.95,
                  1.08, 1.08, 1.05, 0.98, 0.92, 1.0, 0.98, 0.95, 0.9, 0.85,
                  0.75, 0.7, 0.95, 0.9, 0.85, 0.82, 0.8, 0.75, 0.65, 0.72,
                  0.9, 0.88, 0.78]
plusp_dp_q_spk = [3.15, 3.0, 3.15, 3.05, 3.0, 2.95, 2.85, 2.82, 2.8, 2.75,
                  2.7, 2.55, 2.5, 2.15, 2.1, 1.95, 1.85, 1.78, 1.7, 1.62,
                  1.58, 1.55, 1.5, 1.45, 1.38, 1.3, 1.22, 1.1, 1.22, 1.22,
                  1.2, 1.18, 1.1, 1.05, 1.15, 1.1, 1.05, 1.0, 0.98, 0.88,
                  1.15, 1.1, 1.0, 0.95, 0.92, 0.9, 0.85, 0.75, 1.1, 1.12,
                  0.95, 0.8]
plusp_dp_q_in_lo = [nan, 3.1, 2.15, 2.6, 2.65, 2.6, 2.55, 2.45, 2.4, 2.3, 2.2, 1.9, 0.5, 0.45, 0.4, 0.38, 0.36, 0.34, 0.32, 0.28, 0.3, 0.28, 0.28]
plusp_dp_q_in_hi = [nan, 3.2, 2.25, 3.1, 3.1, 3.0, 2.9, 2.8, 2.75, 2.6, 2.55, 2.4, 2.38, 2.33, 2.3, 2.05, 1.6, 1.7, 1.65, 1.25, 1.45, 1.15, 1.3]
plusp_dp_q_out_lo = [nan, 3.1, 2.1, 0.4, 2.3, 2.35, 2.3, 2.15, 2.05, 1.9, 0.8, 0.45, 0.42, 0.35, 0.3, 0.28, 0.25, 0.23, 0.2, 0.18, 0.17, 0.17, 0.17]
plusp_dp_q_out_hi = [nan, 3.2, 3.1, 3.5, 3.2, 3.05, 3.0, 2.95, 2.95, 2.85, 2.8, 2.65, 2.6, 2.55, 2.5, 2.4, 1.6, 2.2, 2.2, 1.9, 1.95, 1.2, 1.9]
plusp_dp_q_tip = [3.2, 3.6, 3.6, 3.15, 3.15, 3.1, 3.1, 3.05, 3.05, 3.05, 3.0, 3.0, 2.8, 2.75, 2.7, 2.65, 2.62, 2.6, 2.58, 2.55,
                  2.52, 2.5, 2.48, 2.45, 2.45, 2.6, 2.15, 1.75, 2.35, 2.5, 2.35, 2.5, 2.2, 2.2, 2.45, 2.2, 2.1, 2.1, 2.05, 2.05,
                  2.7, 2.95, 2.05, 2.0, 2.0, 2.0, 1.95, 1.9, 2.6, 2.05, 2.0, 1.9]
plusp_dp_q_dip = [2.1, 0.4, 0.4, 2.3, 2.0, 2.05, 2.1, 2.0, 1.95, 1.9, 1.85, 1.8, 0.7, 0.5, 0.4, 0.35, 0.33, 0.3, 0.28, 0.27,
                  0.26, 0.25, 0.25, 0.24, 0.23, 0.22, 0.22, 0.21, 0.2, 0.2, 0.19, 0.19, 0.18, 0.18, 0.17, 0.17, 0.16, 0.16, 0.15, 0.15,
                  0.14, 0.14, 0.14, 0.14, 0.13, 0.13, 0.13, 0.13, 0.13, 0.13, 0.13, 0.15]

plt.style.use('seaborn-v0_8')
plt.rcParams['font.family'] = ['Liberation Sans', 'DejaVu Sans']
plt.rcParams['xtick.labelsize'] = 8
plt.rcParams['ytick.labelsize'] = 8
plt.rcParams['axes.labelsize'] = 8

# band colours, already blended with the axes background
colors = {
    'blue': ('#a4a4f6', '#5252fa', 'blue'),
    'red': ('#f0a4a9', '#f85255', 'red'),
}

W, H = 1438, 1435
fig = plt.figure(figsize=(W / 100, H / 100), dpi=100)


def panel(box, title, tpos, med, spk, in_lo, in_hi, out_lo, out_hi, dip, tip, hue, scale, ylab, ytop):
    c_out, c_in, c_med = colors[hue]
    l, r, t, b = box
    ax = fig.add_axes([l / W, 1 - b / H, (r - l) / W, (b - t) / H])
    x = np.array(days)

    # outer envelope spikes sit behind the filled bands
    n = min(len(dip), len(tip))
    ax.vlines(np.arange(1, n + 1), np.array(dip[:n]) * scale, np.array(tip[:n]) * scale,
              colors=c_out, lw=1.6, zorder=1)
    ax.fill_between(x, np.array(out_lo) * scale, np.array(out_hi) * scale,
                    color=c_out, lw=0, zorder=2)
    ax.fill_between(x, np.array(in_lo) * scale, np.array(in_hi) * scale,
                    color=c_in, lw=0, zorder=3)

    # median with its daily spike
    mx, my = [0], [med[0]]
    for d in range(1, min(len(med) - 1, len(spk)) + 1):
        mx += [d, d, d]
        my += [med[d], spk[d - 1], med[d]]
    ax.plot(mx, np.array(my) * scale, color=c_med, lw=1.8, zorder=4)

    ax.set_xlim(0, 54.4)
    ax.set_ylim(0, ytop)
    ax.set_xticks([0, 10, 20, 30, 40, 50])
    ax.ticklabel_format(axis='y', style='sci', scilimits=(0, 0))
    ax.set_xlabel('days', labelpad=2)
    ax.set_ylabel(ylab, labelpad=4)
    ax.yaxis.get_offset_text().set_fontsize(6.5)
    fig.text(tpos[0] / W, 1 - tpos[1] / H, title, fontsize=16, fontweight='bold',
             family='Liberation Serif', color='black', va='baseline')
    return ax


# water height panels
panel((37.7, 477, 18.3, 319), 'NoP - FC', (68, 52),
      nop_fc_med, nop_fc_spk, nop_fc_in_lo, nop_fc_in_hi, nop_fc_out_lo, nop_fc_out_hi, nop_fc_dip, nop_fc_tip,
      'blue', 1e-3, 'm', 4.71e-3)
panel((521, 960, 19, 319), 'SubP - FC', (548, 53),
      subp_fc_med, subp_fc_spk, subp_fc_in_lo, subp_fc_in_hi, subp_fc_out_lo, subp_fc_out_hi, subp_fc_dip, subp_fc_tip,
      'blue', 1e-3, 'm', 4.71e-3)
panel((1000.7, 1429, 26.7, 320), 'PlusP - FC', (1008, 58),
      plusp_fc_med, plusp_fc_spk, plusp_fc_in_lo, plusp_fc_in_hi, plusp_fc_out_lo, plusp_fc_out_hi, plusp_fc_dip,
      plusp_fc_tip, 'blue', 1e-3, 'm', 4.71e-3)
panel((38.3, 484, 380.7, 685), 'NoP - DP', (43, 410),
      nop_dp_med, nop_dp_spk, nop_dp_in_lo, nop_dp_in_hi, nop_dp_out_lo, nop_dp_out_hi, nop_dp_dip, nop_dp_tip,
      'blue', 1e-3, 'm', 4.71e-3)
panel((525.7, 963, 385, 685), 'SubP - DP', (553, 417),
      subp_dp_med, subp_dp_spk, subp_dp_in_lo, subp_dp_in_hi, subp_dp_out_lo, subp_dp_out_hi, subp_dp_dip, subp_dp_tip,
      'blue', 1e-3, 'm', 4.71e-3)
panel((1004.3, 1431, 394.7, 686.7), 'PlusP - DP', (1029, 424),
      plusp_dp_med, plusp_dp_spk, plusp_dp_in_lo, plusp_dp_in_hi, plusp_dp_out_lo, plusp_dp_out_hi, plusp_dp_dip,
      plusp_dp_tip, 'blue', 1e-3, 'm', 4.71e-3)

# flux panels
panel((45.7, 467.3, 758.3, 1045.3), 'NoP - FC', (59, 788),
      nop_fc_q_med, nop_fc_q_spk, nop_fc_q_in_lo, nop_fc_q_in_hi, nop_fc_q_out_lo, nop_fc_q_out_hi, nop_fc_q_dip,
      nop_fc_q_tip, 'red', 1e-10, 'kg/s/m2', 4e-10)
panel((519.3, 956.7, 746, 1044.7), 'SubP - FC', (543, 772),
      subp_fc_q_med, subp_fc_q_spk, subp_fc_q_in_lo, subp_fc_q_in_hi, subp_fc_q_out_lo, subp_fc_q_out_hi, subp_fc_q_dip,
      subp_fc_q_tip, 'red', 1e-10, 'kg/s/m2', 4e-10)
panel((1006.7, 1432.7, 756, 1046.7), 'PlusP - FC', (1031, 782),
      plusp_fc_q_med, plusp_fc_q_spk, plusp_fc_q_in_lo, plusp_fc_q_in_hi, plusp_fc_q_out_lo, plusp_fc_q_out_hi,
      plusp_fc_q_dip, plusp_fc_q_tip, 'red', 1e-10, 'kg/s/m2', 4e-10)
panel((45.7, 469, 1110, 1398.7), 'NoP - DP', (57, 1138),
      nop_dp_q_med, nop_dp_q_spk, nop_dp_q_in_lo, nop_dp_q_in_hi, nop_dp_q_out_lo, nop_dp_q_out_hi, nop_dp_q_dip,
      nop_dp_q_tip, 'red', 1e-10, 'kg/s/m2', 4e-10)
panel((521.7, 946, 1110, 1398.7), 'SubP - DP', (537, 1141),
      subp_dp_q_med, subp_dp_q_spk, subp_dp_q_in_lo, subp_dp_q_in_hi, subp_dp_q_out_lo, subp_dp_q_out_hi, subp_dp_q_dip,
      subp_dp_q_tip, 'red', 1e-10, 'kg/s/m2', 4e-10)
panel((998.3, 1426.7, 1106, 1398.3), 'PlusP - DP', (1011, 1135),
      plusp_dp_q_med, plusp_dp_q_spk, plusp_dp_q_in_lo, plusp_dp_q_in_hi, plusp_dp_q_out_lo, plusp_dp_q_out_hi,
      plusp_dp_q_dip, plusp_dp_q_tip, 'red', 1e-10, 'kg/s/m2', 4e-10)

fig.savefig('out.png', dpi=100)
